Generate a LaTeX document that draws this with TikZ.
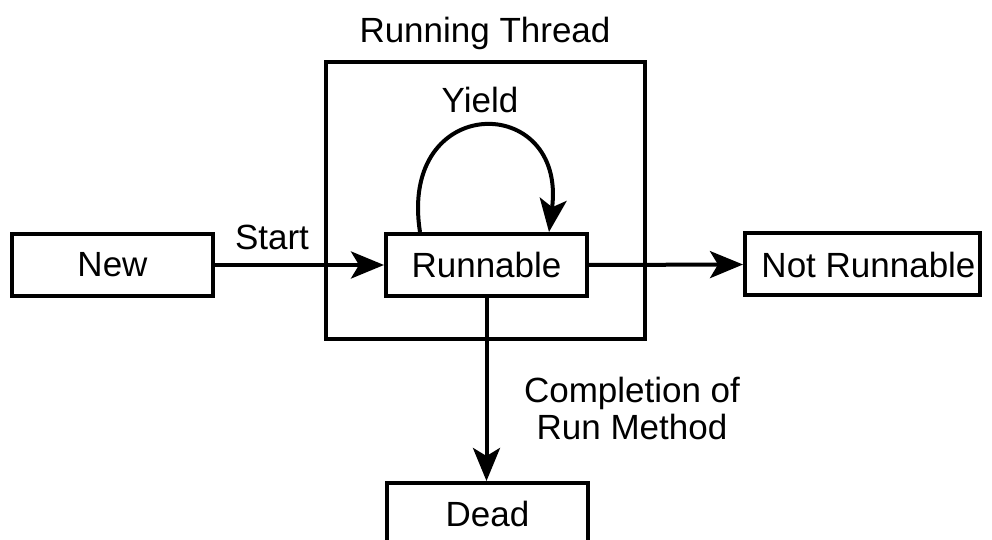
\documentclass[tikz,border=0pt]{standalone}
\usepackage{fontspec}
\setmainfont{Liberation Sans}
\usetikzlibrary{arrows.meta}
\begin{document}
\begin{tikzpicture}[x=0.5pt,y=-0.5pt,
  line width=2pt,
  every node/.style={font=\fontsize{17.5pt}{18.5pt}\selectfont},
  state/.style={draw,rectangle,minimum height=31pt,inner sep=0pt},
  trans/.style={-{Stealth[length=16.5pt,width=13.5pt,inset=4pt]}},
  label/.style={inner sep=0pt,align=center}]
\clip (0,0) rectangle (992,540);
\fill[white] (0,0) rectangle (992,540);

% enclosing region for the running thread
\node[draw,rectangle,minimum width=159.5pt,minimum height=138.5pt,inner sep=0pt] (thread) at (485.5,200.5) {};
\node[label] (threadlbl) at (485,33) {Running Thread};

% states
\node[state,minimum width=100.5pt] (new) at (112.5,265) {New};
\node[state,minimum width=100.5pt] (runnable) at (486.5,265) {Runnable};
\node[state,minimum width=117.5pt] (notrun) at (862.5,264.5) {\hspace{6pt}Not Runnable};
\node[state,minimum width=100.5pt] (dead) at (487.5,514) {Dead};

% transitions
\draw[trans] (new.east) -- (runnable.west);
\draw[trans] (runnable.east) -- (notrun.west);
\draw[trans] (runnable.south) -- (runnable.south |- dead.north);
\draw[trans] ([xshift=18pt]runnable.north west)
  .. controls +(-22,-140) and +(18,-140) .. ([xshift=-20pt]runnable.north east);

% transition labels
\node[label] (startlbl) at (272,237) {Start};
\node[label] (yieldlbl) at (480,100) {Yield};
\node[label] (donelbl) at (632,408) {Completion of\\Run Method};
\end{tikzpicture}
\end{document}
